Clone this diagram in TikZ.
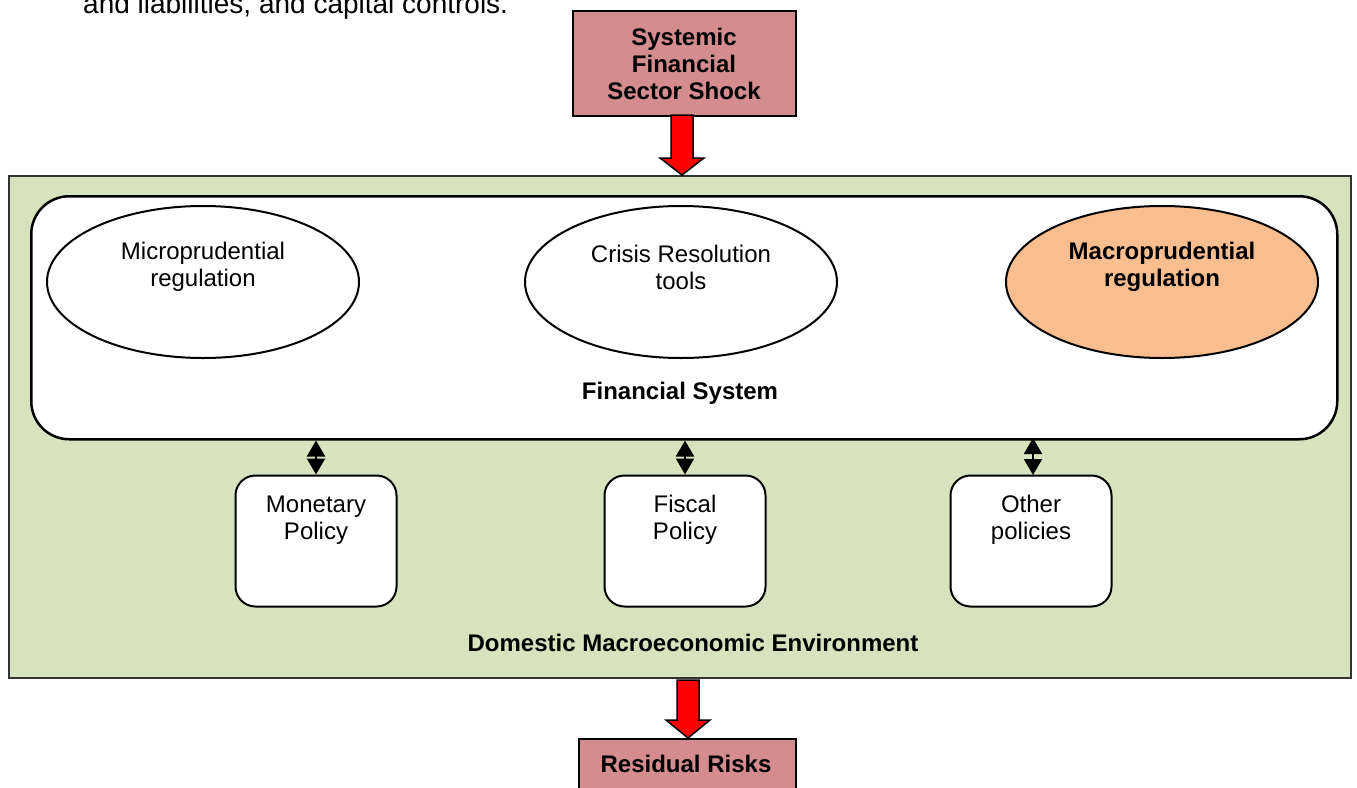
\documentclass[tikz,border=0pt]{standalone}
\usepackage{fontspec}
\setmainfont{Liberation Sans}
\usetikzlibrary{shapes.geometric,arrows.meta,shapes.arrows}
\definecolor{envgreen}{RGB}{215,227,190}
\definecolor{shockpink}{RGB}{212,140,142}
\definecolor{macroorange}{RGB}{249,190,143}
\tikzset{
  txt/.style={font=\fontsize{24}{27}\selectfont, align=center, inner sep=0pt},
  btxt/.style={txt, font=\fontsize{24}{27}\selectfont\bfseries},
  oval/.style={draw=black, line width=2pt, ellipse, minimum width=312pt, minimum height=152pt, inner sep=0pt},
  polbox/.style={draw=black, line width=2pt, fill=white, rounded corners=20pt, minimum width=161pt, minimum height=131pt, inner sep=0pt},
  shockbox/.style={draw=black, line width=2pt, fill=shockpink, inner sep=0pt},
  bigarrow/.style={draw=black, line width=1.5pt, fill=red},
  dbl/.style={line width=2pt, {Triangle[width=18pt,length=16pt]}-{Triangle[width=18pt,length=16pt]}}
}
\begin{document}
\begin{tikzpicture}[x=1pt,y=-1pt]
\useasboundingbox (0,0) rectangle (1357,787);
% top-left cut text
\node[anchor=base west, inner sep=0pt, font=\fontsize{28}{30}\selectfont] (cuttext) at (83,13) {and liabilities, and capital controls.};
% environment
\node[draw=black!80, line width=2pt, fill=envgreen, minimum width=1342pt, minimum height=502pt, inner sep=0pt, anchor=north west] (env) at (8,175) {};
% financial system
\node[draw=black, line width=2.5pt, fill=white, rounded corners=38pt, minimum width=1306pt, minimum height=243pt, inner sep=0pt, anchor=north west] (fin) at (30,195) {};
\node[oval, fill=white] (micro) at (203,282) {};
\node[oval, fill=white] (crisis) at (681,282) {};
\node[oval, fill=macroorange] (macro) at (1162,282) {};
\node[txt] (microt) at (203,267) {Microprudential\\regulation};
\node[txt] (crisist) at (681,267) {Crisis Resolution\\tools};
\node[btxt] (macrot) at (1162,267) {Macroprudential\\regulation};
\node[btxt] (fint) at (680,393) {Financial System};
% policies
\node[polbox] (mon) at (316,541) {};
\node[polbox] (fis) at (685,541) {};
\node[polbox] (oth) at (1031,541) {};
\node[txt] (mont) at (316,520) {Monetary\\Policy};
\node[txt] (fist) at (685,520) {Fiscal\\Policy};
\node[txt] (otht) at (1031,520) {Other\\policies};
\draw[dbl] (mon.north |- fin.south) -- (mon.north);
\draw[dbl] (fis.north |- fin.south) -- (fis.north);
\draw[dbl] (1033,438) coordinate (othtop) -- (1033,475) coordinate (othbot);
\node[btxt] (envt) at (693,643) {Domestic Macroeconomic Environment};
% shock
\node[shockbox, minimum width=223pt, minimum height=105pt, anchor=north west] (shock) at (572,10) {};
\node[btxt] (shockt) at (684,64) {Systemic\\Financial\\Sector Shock};
\node[shockbox, minimum width=217pt, minimum height=60pt, anchor=north west] (resid) at (578,738) {};
\node[btxt, anchor=base] (residt) at (686,772) {Residual Risks};
% big arrows
\draw[bigarrow] (671,115) -- (693,115) -- (693,158) -- (704,158) -- (682,175) -- (660,158) -- (671,158) -- cycle;
\draw[bigarrow] (677,680) -- (699,680) -- (699,720) -- (710,720) -- (688,738) -- (666,720) -- (677,720) -- cycle;
\end{tikzpicture}
\end{document}
